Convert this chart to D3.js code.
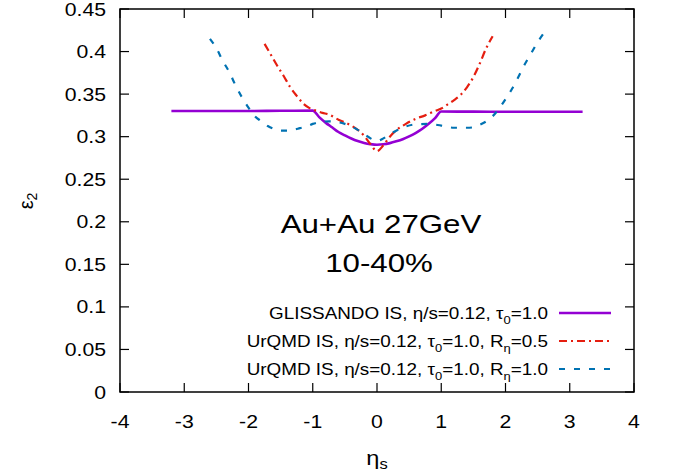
<!DOCTYPE html>
<html>
<head>
<meta charset="utf-8">
<script src="https://cdn.jsdelivr.net/npm/d3@7"></script>
<style>
  html, body { margin: 0; padding: 0; background: #fff; }
  svg { display: block; }
  text { font-family: "Liberation Sans", Arial, Helvetica, sans-serif; fill: #000; }
</style>
</head>
<body>
<svg id="chart" width="673" height="472"></svg>
<script>
// Eccentricity epsilon_2 versus space-time rapidity eta_s
const xTicks = [-4, -3, -2, -1, 0, 1, 2, 3, 4];
const xTickLabels = ["-4", "-3", "-2", "-1", "0", "1", "2", "3", "4"];
const yTicks = [0, 0.05, 0.1, 0.15, 0.2, 0.25, 0.3, 0.35, 0.4, 0.45];
const yTickLabels = ["0", "0.05", "0.1", "0.15", "0.2", "0.25", "0.3", "0.35", "0.4", "0.45"];

// GLISSANDO initial state
const glissandoEta = [-3.2, -2.5, -2.0, -1.5, -1.0, -0.9, -0.8, -0.7, -0.6, -0.5, -0.4, -0.3, -0.2, -0.1, 0,
  0.1, 0.2, 0.3, 0.4, 0.5, 0.6, 0.7, 0.8, 0.9, 1.0, 1.5, 2.0, 2.5, 3.2];
const glissandoEps = [0.3302, 0.3302, 0.3302, 0.3304, 0.3306, 0.323, 0.3165, 0.311, 0.3055, 0.3015, 0.2978, 0.2948, 0.2926, 0.2912, 0.2905,
  0.291, 0.2924, 0.2945, 0.297, 0.3003, 0.3043, 0.309, 0.3148, 0.3215, 0.3295, 0.3294, 0.3293, 0.3292, 0.3292];

// UrQMD initial state, R_eta = 0.5
const urqmd05Eta = [-1.75, -1.65, -1.55, -1.45, -1.35, -1.25, -1.15, -1.05, -0.95, -0.85, -0.75, -0.6, -0.45, -0.3, -0.2, -0.1, 0,
  0.1, 0.2, 0.3, 0.45, 0.6, 0.75, 0.9, 1.0, 1.1, 1.2, 1.3, 1.4, 1.5, 1.6, 1.7, 1.8];
const urqmd05Eps = [0.409, 0.396, 0.383, 0.371, 0.358, 0.348, 0.339, 0.3335, 0.3305, 0.328, 0.326, 0.320, 0.315, 0.308, 0.301, 0.291, 0.283,
  0.290, 0.300, 0.3075, 0.315, 0.321, 0.325, 0.330, 0.333, 0.338, 0.343, 0.349, 0.358, 0.370, 0.386, 0.404, 0.418];

// UrQMD initial state, R_eta = 1.0
const urqmd10Eta = [-2.6, -2.5, -2.4, -2.3, -2.2, -2.1, -2.0, -1.9, -1.8, -1.7, -1.6, -1.5, -1.4, -1.3, -1.2, -1.1, -1.0, -0.9, -0.75, -0.6,
  -0.5, -0.4, -0.3, -0.2, -0.1, 0, 0.1, 0.2, 0.3, 0.45, 0.6, 0.8, 1.0, 1.2, 1.4, 1.5, 1.6, 1.7, 1.8, 1.9, 2.0, 2.1, 2.2, 2.3, 2.4, 2.5, 2.6];
const urqmd10Eps = [0.415, 0.404, 0.389, 0.376, 0.360, 0.346, 0.334, 0.324, 0.318, 0.3125, 0.309, 0.3072, 0.307, 0.308, 0.310, 0.312, 0.315, 0.317, 0.318, 0.317,
  0.315, 0.312, 0.308, 0.303, 0.298, 0.295, 0.298, 0.303, 0.307, 0.312, 0.3145, 0.315, 0.313, 0.3105, 0.3105, 0.311, 0.314, 0.318, 0.324, 0.333, 0.344, 0.356, 0.370, 0.385, 0.398, 0.411, 0.422];

const series = [
  { eta: glissandoEta, eps: glissandoEps, color: "#9400d3", width: 2.6, dash: null,
    label: [["GLISSANDO IS, η/s=0.12, τ"], ["0", "sub"], ["=1.0"]] },
  { eta: urqmd05Eta, eps: urqmd05Eps, color: "#e51e10", width: 2.2, dash: "8,4,2,4",
    label: [["UrQMD IS, η/s=0.12, τ"], ["0", "sub"], ["=1.0, R"], ["η", "sub"], ["=0.5"]] },
  { eta: urqmd10Eta, eps: urqmd10Eps, color: "#0072b2", width: 2.2, dash: "6,9",
    label: [["UrQMD IS, η/s=0.12, τ"], ["0", "sub"], ["=1.0, R"], ["η", "sub"], ["=1.0"]] }
];

const svg = d3.select("#chart");
const margin = { left: 120, top: 9, right: 39, bottom: 80 };
const W = 673 - margin.left - margin.right;
const H = 472 - margin.top - margin.bottom;

const x = d3.scaleLinear().domain([-4, 4]).range([margin.left, margin.left + W]);
const y = d3.scaleLinear().domain([0, 0.45]).range([margin.top + H, margin.top]);

// the lettering is set a little wide
const stretch = 1.18;
const place = (sel, px, py) => sel.attr("transform", `translate(${px},${py}) scale(${stretch},1)`);

const tickLen = 9;
const ticks = svg.append("g").attr("stroke", "#000").attr("stroke-width", 1.2);
xTicks.forEach(t => {
  ticks.append("line").attr("x1", x(t)).attr("x2", x(t)).attr("y1", y(0)).attr("y2", y(0) - tickLen);
  ticks.append("line").attr("x1", x(t)).attr("x2", x(t)).attr("y1", y(0.45)).attr("y2", y(0.45) + tickLen);
});
yTicks.forEach(t => {
  ticks.append("line").attr("x1", x(-4)).attr("x2", x(-4) + tickLen).attr("y1", y(t)).attr("y2", y(t));
  ticks.append("line").attr("x1", x(4)).attr("x2", x(4) - tickLen).attr("y1", y(t)).attr("y2", y(t));
});

// tick labels
svg.append("g").selectAll("text").data(xTicks).join("text")
  .attr("transform", d => `translate(${x(d)},${y(0) + 36}) scale(${stretch},1)`)
  .attr("text-anchor", "middle").attr("font-size", 18)
  .text((d, i) => xTickLabels[i]);
svg.append("g").selectAll("text").data(yTicks).join("text")
  .attr("transform", d => `translate(${x(-4) - 14},${y(d) + 6.5}) scale(${stretch},1)`)
  .attr("text-anchor", "end").attr("font-size", 18)
  .text((d, i) => yTickLabels[i]);

// curves
const line = d3.line().x(d => x(d[0])).y(d => y(d[1])).curve(d3.curveMonotoneX);
const plot = svg.append("g");
series.forEach(s => {
  const pts = s.eta.map((e, i) => [e, s.eps[i]]);
  plot.append("path").datum(pts)
    .attr("d", line)
    .attr("fill", "none")
    .attr("stroke", s.color)
    .attr("stroke-width", s.width)
    .attr("stroke-dasharray", s.dash)
    .attr("stroke-linejoin", "round");
});

// frame
svg.append("rect")
  .attr("x", x(-4)).attr("y", y(0.45))
  .attr("width", x(4) - x(-4)).attr("height", y(0) - y(0.45))
  .attr("fill", "none").attr("stroke", "#000").attr("stroke-width", 1.5);

// legend
const legend = svg.append("g");
const rowY = [313, 341, 369];
series.forEach((s, i) => {
  const t = legend.append("text")
    .attr("text-anchor", "end").attr("font-size", 16);
  place(t, 548, rowY[i] + 6);
  s.label.forEach(part => {
    const ts = t.append("tspan").text(part[0]);
    if (part[1] === "sub") {
      ts.attr("font-size", 11).attr("dy", 5);
    } else if (t.selectAll("tspan").size() > 1) {
      ts.attr("dy", -5);
    }
  });
  legend.append("line")
    .attr("x1", 559).attr("x2", 611).attr("y1", rowY[i]).attr("y2", rowY[i])
    .attr("stroke", s.color).attr("stroke-width", s.width)
    .attr("stroke-dasharray", s.dash);
});

// annotation
place(svg.append("text"), x(0) + 4, 233)
  .attr("text-anchor", "middle").attr("font-size", 26.5).text("Au+Au 27GeV");
place(svg.append("text"), x(0) + 2, 272)
  .attr("text-anchor", "middle").attr("font-size", 26.5).text("10-40%");

// axis titles
const xt = place(svg.append("text"), x(0), 465)
  .attr("text-anchor", "middle").attr("font-size", 20);
xt.append("tspan").text("η");
xt.append("tspan").text("s").attr("font-size", 14).attr("dy", 4);

const yt = svg.append("text")
  .attr("transform", "translate(33,201) rotate(-90)")
  .attr("text-anchor", "middle").attr("font-size", 20);
yt.append("tspan").text("ε");
yt.append("tspan").text("2").attr("font-size", 14).attr("dy", 4);
</script>
</body>
</html>
